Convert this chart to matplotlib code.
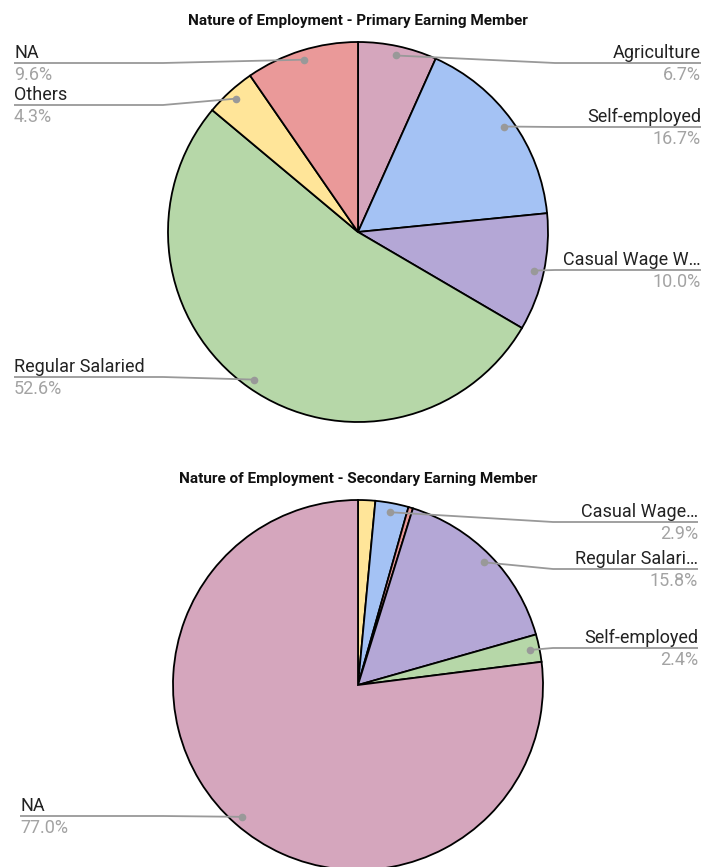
import matplotlib
matplotlib.use("Agg")
import matplotlib.pyplot as plt
import numpy as np

W, H = 704, 867

# ---- data ----
top_title = "Nature of Employment - Primary Earning Member"
top_labels = ["Agriculture", "Self-employed", "Casual Wage W…", "Regular Salaried", "Others", "NA"]
top_values = [6.7, 16.7, 10.0, 52.6, 4.3, 9.6]
top_colors = ["#d5a6bd", "#a4c2f4", "#b4a7d6", "#b6d7a8", "#ffe599", "#ea9999"]

bot_title = "Nature of Employment - Secondary Earning Member"
bot_labels = ["Others", "Casual Wage…", "Agriculture", "Regular Salari…", "Self-employed", "NA"]
bot_values = [1.5, 2.9, 0.4, 15.8, 2.4, 77.0]
bot_colors = ["#ffe599", "#a4c2f4", "#ea9999", "#b4a7d6", "#b6d7a8", "#d5a6bd"]
bot_show = [False, True, False, True, True, True]

# ---- layout (pixels from top-left) ----
top_center, top_radius = (358, 232), 190
bot_center, bot_radius = (358, 685), 185
top_layout = {"Agriculture": (63, "R"), "Self-employed": (127, "R"), "Casual Wage W…": (270, "R"),
              "Regular Salaried": (377, "L"), "Others": (105, "L"), "NA": (63, "L")}
bot_layout = {"Casual Wage…": (522, "R"), "Regular Salari…": (569, "R"),
              "Self-employed": (648, "R"), "NA": (816, "L")}

LINE_C = "#999999"
TXT_C = "#222222"
PCT_C = "#a3a3a3"
FONT = ["Roboto", "DejaVu Sans"]
FS = 13

fig = plt.figure(figsize=(W / 100, H / 100), dpi=100)
ax = fig.add_axes([0, 0, 1, 1])


def Y(py):
    return H - py


def draw_chart(title, title_y, labels, values, colors, center, radius, layout, show,
               left_x, right_x, left_elbow, right_elbow):
    cx, cy = center[0], Y(center[1])
    ax.pie(values, colors=colors, startangle=90, counterclock=False,
           center=(cx, cy), radius=radius,
           wedgeprops=dict(edgecolor="black", linewidth=1.3))
    total = float(sum(values))
    cum = 0.0
    for lab, v, s in zip(labels, values, show):
        mid = cum + v / 2.0
        cum += v
        if not s:
            continue
        theta = np.deg2rad(90 - 360.0 * mid / total)
        dx_ = cx + 0.95 * radius * np.cos(theta)
        dy_ = cy + 0.95 * radius * np.sin(theta)
        ly, side = layout[lab]
        ly = Y(ly)
        if side == "R":
            xs = [dx_, right_elbow, right_x]
            tx, ha = right_x, "right"
        else:
            xs = [dx_, left_elbow, left_x]
            tx, ha = left_x, "left"
        ax.plot(xs, [dy_, ly, ly], color=LINE_C, lw=1.3, solid_capstyle="butt", zorder=5)
        ax.plot([dx_], [dy_], "o", color=LINE_C, ms=5.5, mec="none", zorder=6)
        ax.text(tx, ly + 5, lab, ha=ha, va="baseline", fontsize=FS, color=TXT_C, family=FONT)
        ax.text(tx, ly - 3, f"{v:.1f}%", ha=ha, va="top", fontsize=FS, color=PCT_C, family=FONT)
    ax.text(358, Y(title_y), title, ha="center", va="baseline", fontsize=11,
            fontweight="bold", color="#111111", family=["Roboto", "DejaVu Sans"])


draw_chart(top_title, 25, top_labels, top_values, top_colors, top_center, top_radius,
           top_layout, [True] * len(top_labels), 14, 701, 163, 555)
draw_chart(bot_title, 483, bot_labels, bot_values, bot_colors, bot_center, bot_radius,
           bot_layout, bot_show, 20, 698, 163, 553)

ax.set_xlim(0, W)
ax.set_ylim(0, H)
ax.set_aspect("auto")
ax.axis("off")
fig.savefig("out.png", dpi=100)
